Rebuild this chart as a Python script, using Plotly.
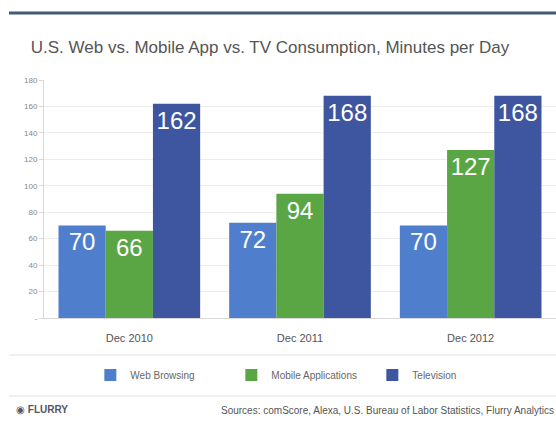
import plotly.graph_objects as go

categories = ["Dec 2010", "Dec 2011", "Dec 2012"]
series_names = ["Web Browsing", "Mobile Applications", "Television"]
web_browsing = [70, 72, 70]
mobile_apps = [66, 94, 127]
television = [162, 168, 168]
y_tick_vals = [0, 20, 40, 60, 80, 100, 120, 140, 160, 180]
y_tick_text = ["-", "20", "40", "60", "80", "100", "120", "140", "160", "180"]

colors = ["#4f7fcc", "#5aa644", "#3e55a0"]
FONT = "Liberation Sans, Arial, sans-serif"

fig = go.Figure()
for name, vals, col in zip(series_names, [web_browsing, mobile_apps, television], colors):
    fig.add_trace(go.Bar(
        x=categories, y=vals, name=name,
        marker=dict(color=col, line=dict(width=0)),
        text=[str(v) for v in vals],
        textposition="inside", insidetextanchor="end",
        textfont=dict(color="white", size=24, family=FONT),
        textangle=0,
    ))

fig.update_layout(
    width=556, height=421,
    margin=dict(l=44, r=0, t=80, b=103),
    paper_bgcolor="white", plot_bgcolor="white",
    barmode="group", bargap=0.17, bargroupgap=0,
    font=dict(family=FONT, color="#555"),
    title=dict(text="U.S. Web vs. Mobile App vs. TV Consumption, Minutes per Day",
               x=270/556, xanchor="center", y=1-47/421, yanchor="middle",
               font=dict(size=17, color="#555", family=FONT)),
    xaxis=dict(showgrid=False, showline=True, linecolor="#d8d8d8",
               ticks="outside", ticklen=10, tickcolor="rgba(0,0,0,0)",
               tickfont=dict(size=11, color="#555")),
    yaxis=dict(range=[0, 180], tickvals=y_tick_vals, ticktext=y_tick_text,
               showgrid=True, gridcolor="#ececec", gridwidth=1,
               showline=True, linecolor="#d8d8d8", ticks="outside", ticklen=4,
               tickcolor="#d8d8d8", tickfont=dict(size=8, color="#888"),
               zeroline=False),
    showlegend=True,
    legend=dict(orientation="h", x=280/556, xanchor="center",
                y=(318-375)/238, yanchor="middle",
                font=dict(size=10, color="#666"), entrywidth=96,
                entrywidthmode="pixels", traceorder="normal"),
    shapes=[
        dict(type="line", xref="paper", yref="paper",
             x0=-35/512, x1=1.03, y0=(318-13)/238, y1=(318-13)/238,
             line=dict(color="#3f5b74", width=3)),
        dict(type="line", xref="paper", yref="paper",
             x0=-35/512, x1=1.03, y0=(318-355)/238, y1=(318-355)/238,
             line=dict(color="#e2e2e2", width=1)),
        dict(type="line", xref="paper", yref="paper",
             x0=-35/512, x1=1.03, y0=(318-396)/238, y1=(318-396)/238,
             line=dict(color="#e2e2e2", width=1)),
    ],
    annotations=[
        dict(text="◉ <b>FLURRY</b>", xref="paper", yref="paper",
             x=-30/512, xanchor="left", y=(318-409)/238, yanchor="middle",
             showarrow=False, font=dict(size=10, color="#556", family=FONT)),
        dict(text="Sources: comScore, Alexa, U.S. Bureau of Labor Statistics, Flurry Analytics",
             xref="paper", yref="paper", x=1, xanchor="right",
             y=(318-410)/238, yanchor="middle", showarrow=False,
             font=dict(size=10, color="#555", family=FONT)),
    ],
)

fig.write_html("out.html", config={"displayModeBar": False},
               post_script="document.body.style.margin='0';document.body.style.overflow='hidden';")
